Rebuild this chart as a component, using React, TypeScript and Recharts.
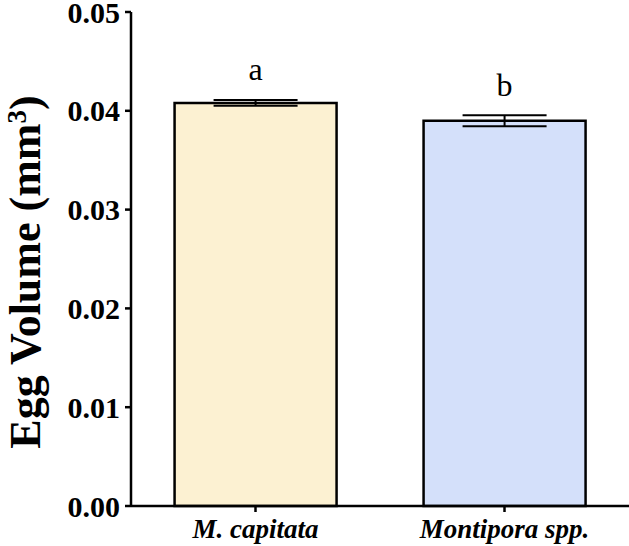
import React from "react";
import { BarChart, Bar, XAxis, YAxis, ErrorBar, LabelList, Cell } from "recharts";

const categories = ["M. capitata", "Montipora spp."];
const eggVolume = [0.0408, 0.039];
const eggError = [0.0003, 0.00056];
const sigLetters = ["a", "b"];
const barColors = ["#FCF1D2", "#D4E0FA"];
const yTicks = [0, 0.01, 0.02, 0.03, 0.04, 0.05];

const data = categories.map((c, i) => ({
  name: c,
  value: eggVolume[i],
  err: eggError[i],
  sig: sigLetters[i],
}));

const serif = "'Liberation Serif', 'Times New Roman', serif";

const YLabel = () => {
  const cy = 272;
  const x = 40;
  return (
    <text
      x={x}
      y={cy}
      transform={`rotate(-90, ${x}, ${cy})`}
      textAnchor="middle"
      fontFamily={serif}
      fontWeight="bold"
      fontSize={44}
      fill="#000"
    >
      Egg Volume (mm
      <tspan dy={-14} fontSize={27}>3</tspan>
      <tspan dy={14}>)</tspan>
    </text>
  );
};

const SigLabel = (props: any) => {
  const { x, y, width, value, index } = props;
  const offs = [23, 25];
  return (
    <text
      x={x + width / 2}
      y={y - offs[index]}
      textAnchor="middle"
      fontFamily={serif}
      fontSize={32}
      fill="#000"
    >
      {value}
    </text>
  );
};

export default function App() {
  return (
    <div style={{ position: "absolute", left: 0, top: 0 }}>
      <BarChart
        width={629}
        height={546}
        data={data}
        margin={{ top: 12, right: 0, bottom: 0, left: 0 }}
        barCategoryGap="17.5%"
      >
        <XAxis
          dataKey="name"
          height={40}
          stroke="#000"
          strokeWidth={2.5}
          tickSize={6}
          tickMargin={7}
          tick={{
            fill: "#000",
            fontFamily: serif,
            fontSize: 27,
            fontWeight: "bold",
            fontStyle: "italic",
          }}
          axisLine={{ stroke: "#000", strokeWidth: 2.5 }}
          tickLine={{ stroke: "#000", strokeWidth: 2.5 }}
        />
        <YAxis
          width={131}
          domain={[0, 0.05]}
          ticks={yTicks}
          interval={0}
          tickFormatter={(v: number) => v.toFixed(2)}
          tickSize={6}
          tickMargin={5}
          tick={{ fill: "#000", fontFamily: serif, fontSize: 30, fontWeight: "bold" }}
          axisLine={{ stroke: "#000", strokeWidth: 2.5 }}
          tickLine={{ stroke: "#000", strokeWidth: 2.5 }}
          label={<YLabel />}
        />
        <Bar dataKey="value" stroke="#000" strokeWidth={2.5} isAnimationActive={false}>
          {data.map((d, i) => (
            <Cell key={d.name} fill={barColors[i]} />
          ))}
          <ErrorBar dataKey="err" width={42} stroke="#000" strokeWidth={2} direction="y" />
          <LabelList dataKey="sig" content={<SigLabel />} />
        </Bar>
      </BarChart>
    </div>
  );
}
